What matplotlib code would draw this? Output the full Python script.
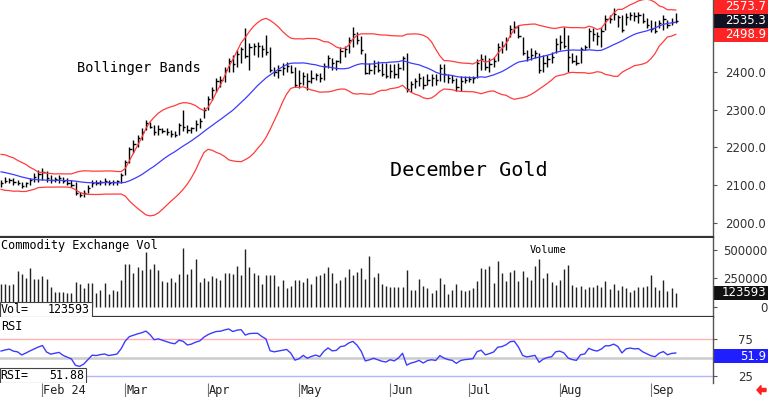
import numpy as np
import pandas as pd
import matplotlib
matplotlib.use('Agg')
import matplotlib.pyplot as plt
import matplotlib.transforms as mtransforms
from matplotlib.patches import Rectangle, FancyArrow

# trading days shown on the chart (Jan 18 - Sep 11 2024)
holidays = ['2024-02-19', '2024-03-29', '2024-05-27', '2024-06-19', '2024-07-04', '2024-09-02']
dates = pd.bdate_range('2024-01-18', '2024-09-11').drop(pd.to_datetime(holidays))

# closes before the first visible bar (only used to seed the bands / RSI)
prior_closes = [2150, 2166, 2158, 2170, 2162, 2156, 2160, 2150, 2154, 2138,
                2130, 2120, 2124, 2112, 2116, 2105, 2112, 2100, 2110]

highs = [2113, 2122, 2118, 2118, 2113, 2109, 2109, 2118, 2131, 2140,
         2144, 2136, 2127, 2122, 2127, 2122, 2118, 2113, 2109, 2082,
         2087, 2100, 2113, 2113, 2113, 2118, 2113, 2113, 2113, 2131,
         2166, 2202, 2220, 2233, 2250, 2273, 2268, 2259, 2259, 2250,
         2250, 2246, 2242, 2264, 2299, 2259, 2255, 2273, 2277, 2308,
         2335, 2361, 2383, 2388, 2414, 2436, 2445, 2458, 2467, 2516,
         2476, 2476, 2480, 2472, 2498, 2467, 2414, 2419, 2423, 2427,
         2419, 2414, 2405, 2401, 2397, 2405, 2397, 2397, 2425, 2445,
         2436, 2432, 2465, 2470, 2494, 2520, 2507, 2496, 2450, 2425,
         2432, 2428, 2425, 2425, 2421, 2421, 2423, 2443, 2450, 2376,
         2385, 2397, 2388, 2395, 2395, 2395, 2420, 2420, 2395, 2392,
         2385, 2388, 2388, 2388, 2390, 2435, 2448, 2445, 2436, 2441,
         2476, 2481, 2494, 2525, 2534, 2525, 2494, 2458, 2463, 2458,
         2450, 2445, 2445, 2454, 2490, 2498, 2520, 2498, 2450, 2445,
         2467, 2472, 2516, 2516, 2507, 2520, 2551, 2551, 2569, 2551,
         2551, 2556, 2560, 2560, 2560, 2556, 2543, 2538, 2534, 2538,
         2551, 2538, 2543, 2556]

lows = [2096, 2104, 2104, 2100, 2100, 2091, 2096, 2100, 2109, 2109,
        2113, 2109, 2104, 2109, 2104, 2104, 2100, 2096, 2074, 2069,
        2069, 2078, 2096, 2100, 2100, 2100, 2100, 2100, 2100, 2104,
        2127, 2158, 2184, 2202, 2220, 2246, 2250, 2233, 2233, 2237,
        2233, 2228, 2228, 2233, 2242, 2237, 2237, 2242, 2250, 2277,
        2299, 2326, 2348, 2361, 2374, 2401, 2401, 2414, 2423, 2436,
        2405, 2445, 2441, 2441, 2445, 2401, 2388, 2383, 2392, 2401,
        2397, 2361, 2357, 2366, 2352, 2370, 2379, 2374, 2379, 2410,
        2405, 2405, 2423, 2441, 2450, 2467, 2475, 2447, 2395, 2395,
        2395, 2399, 2388, 2383, 2383, 2385, 2385, 2405, 2348, 2348,
        2357, 2363, 2354, 2365, 2363, 2365, 2376, 2374, 2372, 2370,
        2350, 2350, 2370, 2374, 2372, 2385, 2405, 2405, 2401, 2414,
        2428, 2450, 2458, 2494, 2503, 2490, 2445, 2428, 2432, 2436,
        2397, 2401, 2414, 2423, 2450, 2458, 2463, 2401, 2423, 2419,
        2423, 2459, 2463, 2481, 2472, 2467, 2512, 2529, 2538, 2520,
        2507, 2525, 2538, 2534, 2529, 2529, 2516, 2507, 2503, 2516,
        2512, 2516, 2525, 2529]

closes = [2105, 2110, 2114, 2108, 2106, 2097, 2104, 2112, 2120, 2128,
          2135, 2118, 2112, 2115, 2118, 2110, 2105, 2100, 2078, 2074,
          2080, 2092, 2106, 2105, 2108, 2110, 2106, 2108, 2110, 2126,
          2162, 2196, 2210, 2226, 2240, 2265, 2255, 2240, 2248, 2244,
          2240, 2236, 2234, 2258, 2255, 2245, 2250, 2262, 2270, 2300,
          2328, 2352, 2375, 2380, 2405, 2428, 2420, 2448, 2460, 2442,
          2465, 2470, 2470, 2460, 2452, 2405, 2400, 2405, 2410, 2415,
          2400, 2365, 2372, 2390, 2375, 2385, 2392, 2385, 2415, 2438,
          2425, 2428, 2455, 2460, 2485, 2500, 2485, 2458, 2398, 2405,
          2415, 2405, 2395, 2390, 2402, 2395, 2410, 2438, 2355, 2368,
          2375, 2385, 2365, 2380, 2385, 2380, 2410, 2395, 2385, 2380,
          2360, 2375, 2380, 2382, 2385, 2425, 2435, 2412, 2420, 2430,
          2465, 2470, 2485, 2515, 2520, 2495, 2450, 2440, 2445, 2450,
          2405, 2425, 2435, 2440, 2475, 2480, 2470, 2440, 2430, 2425,
          2460, 2465, 2510, 2500, 2495, 2510, 2540, 2540, 2555, 2545,
          2512, 2545, 2552, 2548, 2550, 2535, 2525, 2515, 2510, 2530,
          2540, 2525, 2533, 2535.3]

volumes = [197000, 197000, 191000, 200000, 315000, 291000, 250000, 338000, 244000, 244000,
           270000, 247000, 171000, 126000, 126000, 132000, 121000, 118000, 221000, 203000,
           162000, 206000, 206000, 118000, 147000, 212000, 109000, 147000, 138000, 235000,
           376000, 376000, 300000, 347000, 326000, 479000, 329000, 374000, 324000, 229000,
           221000, 256000, 221000, 285000, 521000, 288000, 329000, 421000, 221000, 250000,
           226000, 274000, 250000, 235000, 297000, 294000, 285000, 359000, 279000, 506000,
           350000, 300000, 279000, 197000, 276000, 276000, 276000, 185000, 235000, 162000,
           185000, 238000, 238000, 221000, 256000, 200000, 274000, 276000, 300000, 350000,
           300000, 206000, 232000, 265000, 332000, 279000, 303000, 338000, 247000, 450000,
           265000, 294000, 200000, 182000, 171000, 171000, 171000, 171000, 321000, 147000,
           147000, 244000, 182000, 168000, 118000, 147000, 256000, 197000, 112000, 147000,
           197000, 147000, 138000, 147000, 168000, 226000, 338000, 329000, 359000, 212000,
           403000, 294000, 226000, 303000, 324000, 226000, 315000, 265000, 235000, 359000,
           421000, 250000, 294000, 221000, 191000, 235000, 329000, 368000, 191000, 176000,
           182000, 156000, 176000, 171000, 191000, 171000, 229000, 156000, 200000, 147000,
           182000, 168000, 126000, 147000, 171000, 171000, 182000, 279000, 171000, 147000,
           235000, 141000, 162000, 123593]

price_ticks = [2000, 2100, 2200, 2300, 2400]
vol_ticks = [0, 250000, 500000]
rsi_ticks = [25, 75]
month_labels = ['Feb 24', 'Mar', 'Apr', 'May', 'Jun', 'Jul', 'Aug', 'Sep']

last_upper, last_close, last_lower = 2573.7, 2535.3, 2498.9
last_vol = 123593
last_rsi = 51.88

# indicators
all_closes = pd.Series(prior_closes + closes)
nprior = len(prior_closes)
mid = all_closes.rolling(20).mean()
sd = all_closes.rolling(20).std(ddof=0)
upper = (mid + 2 * sd).values[nprior:]
lower = (mid - 2 * sd).values[nprior:]
mid = mid.values[nprior:]
delta = all_closes.diff()
gain = delta.clip(lower=0).ewm(alpha=1 / 14, adjust=False).mean()
loss = (-delta.clip(upper=0)).ewm(alpha=1 / 14, adjust=False).mean()
rsi = (100 - 100 / (1 + gain / loss)).values[nprior:]

x = np.arange(len(closes))
month_pos = [i for i in range(1, len(dates)) if dates[i].month != dates[i - 1].month]

plt.rcParams['font.family'] = 'DejaVu Sans'
fig = plt.figure(figsize=(7.68, 3.97), dpi=100)
W = 713 / 768
ax1 = fig.add_axes([0, 1 - 237 / 397, W, 237 / 397])
ax2 = fig.add_axes([0, 1 - 317 / 397, W, 79 / 397])
ax3 = fig.add_axes([0, 1 - 383 / 397, W, 66 / 397])

xlim = (-0.25, 172)
for ax in (ax1, ax2, ax3):
    ax.set_xlim(*xlim)
    ax.spines['left'].set_visible(False)
    ax.spines['top'].set_visible(False)
    ax.spines['right'].set_color('#555555')
    ax.spines['right'].set_linewidth(1)
    ax.yaxis.tick_right()
    ax.tick_params(axis='y', direction='out', length=3, color='#555555',
                   labelcolor='#333333', labelsize=8.5)
for ax in (ax1, ax2):
    ax.set_xticks([])
    ax.spines['bottom'].set_color('#333333')
    ax.spines['bottom'].set_linewidth(1.6)
ax3.spines['bottom'].set_visible(False)

# price panel
ax1.set_ylim(1962, 2591)
ax1.vlines(x, lows, highs, color='black', lw=1.0)
ax1.hlines(closes, x, x + 0.55, color='black', lw=1.0)
ax1.plot(x, upper, color='#ff3c3c', lw=0.9)
ax1.plot(x, lower, color='#ff3c3c', lw=0.9)
ax1.plot(x, mid, color='#3c3cff', lw=0.9)
ax1.set_yticks(price_ticks, labels=[f'{v:.1f}' for v in price_ticks])
ax1.text(77 / 713, 2410, 'Bollinger Bands', family='DejaVu Sans Mono', fontsize=9.8,
         transform=mtransforms.blended_transform_factory(ax1.transAxes, ax1.transData),
         va='center', ha='left')
ax1.text(390 / 713, 2138, 'December Gold', family='DejaVu Sans Mono', fontsize=14.5,
         transform=mtransforms.blended_transform_factory(ax1.transAxes, ax1.transData),
         va='center', ha='left')

# volume panel
ax2.set_ylim(-91000, 607000)
ax2.vlines(x, 0, volumes, color='#222222', lw=1.0)
ax2.set_yticks(vol_ticks, labels=[str(v) for v in vol_ticks])
ax2.text(0.001, 0.9, 'Commodity Exchange Vol', transform=ax2.transAxes,
         family='DejaVu Sans Mono', fontsize=8.6, va='center', ha='left')
ax2.text(530 / 713, 0.85, 'Volume', transform=ax2.transAxes,
         family='DejaVu Sans Mono', fontsize=7.4, va='center', ha='left')

# rsi panel
ax3.set_ylim(15.5, 105.4)
ax3.axhline(75, color='#ffb0b0', lw=1)
ax3.axhline(50, color='#cccccc', lw=1.8)
ax3.axhline(25, color='#b4b4ff', lw=1)
ax3.plot(x, rsi, color='#3c3cff', lw=1)
ax3.set_yticks(rsi_ticks, labels=[str(v) for v in rsi_ticks])
ax3.text(0.001, 0.86, 'RSI', transform=ax3.transAxes,
         family='DejaVu Sans Mono', fontsize=8.6, va='center', ha='left')

# right-side labels: price/rsi centred, volume right aligned
for ax in (ax1, ax3):
    ax.tick_params(axis='y', pad=20.5)
    for t in ax.get_yticklabels():
        t.set_ha('center')
ax2.tick_params(axis='y', pad=36.5)
for t in ax2.get_yticklabels():
    t.set_ha('right')

# month axis
ax3.set_xticks(month_pos)
ax3.set_xticklabels([])
ax3.tick_params(axis='x', length=10, direction='out', color='#777777')
bt = mtransforms.blended_transform_factory(ax3.transData, ax3.transAxes)
for pos, lab in zip(month_pos, month_labels):
    ax3.text(pos + 0.25, -0.11, lab, transform=bt, family='DejaVu Sans Mono',
             fontsize=8.6, va='center', ha='left', color='#222222')


def side_box(ax, val, txt, fc):
    lo, hi = ax.get_ylim()
    dy = 14 / ax.bbox.height * (hi - lo)
    tr = mtransforms.blended_transform_factory(ax.transAxes, ax.transData)
    ax.add_patch(Rectangle((1.002, val - dy / 2), 54 / 713, dy, transform=tr,
                           fc=fc, ec='none', clip_on=False))
    ax.text(766 / 713, val, txt, transform=tr, ha='right', va='center',
            color='white', fontsize=8.5, clip_on=False)


side_box(ax1, last_upper, f'{last_upper:.1f}', '#ff2424')
side_box(ax1, last_close, f'{last_close:.1f}', '#111122')
side_box(ax1, last_lower, f'{last_lower:.1f}', '#ff2424')
side_box(ax2, last_vol, str(last_vol), '#111111')
side_box(ax3, last_rsi, f'{last_rsi:.1f}', '#1e1eff')


def left_box(ax, name, txt, width_px):
    ax.add_patch(Rectangle((0, 0), width_px / 713, 15 / ax.bbox.height,
                           transform=ax.transAxes, fc='white', ec='#444444',
                           lw=0.8, zorder=5))
    yc = 7.5 / ax.bbox.height
    ax.text(0.001, yc, name, transform=ax.transAxes, family='DejaVu Sans Mono',
            fontsize=8.4, va='center', ha='left', zorder=6)
    ax.text((width_px - 2) / 713, yc, txt, transform=ax.transAxes,
            family='DejaVu Sans Mono', fontsize=8.4, va='center', ha='right', zorder=6)


left_box(ax2, 'Vol=', str(last_vol), 92)
left_box(ax3, 'RSI=', f'{last_rsi:.2f}', 86)

fig.add_artist(FancyArrow(766 / 768, 1 - 390 / 397, -5 / 768, 0, width=3 / 397,
                          head_width=9 / 397, head_length=4 / 768, color='#ff2020',
                          transform=fig.transFigure, length_includes_head=False))

fig.savefig('out.png', dpi=100)
